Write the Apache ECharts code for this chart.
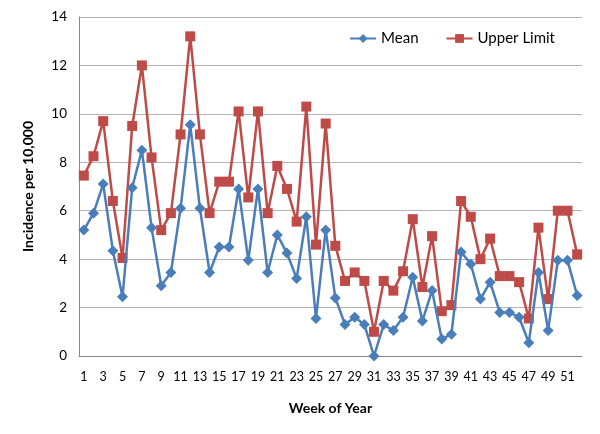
<!DOCTYPE html>
<html>
<head>
<meta charset="utf-8">
<script src="https://cdn.jsdelivr.net/npm/echarts@6/dist/echarts.min.js"></script>
<style>
  html, body { margin: 0; padding: 0; background: #fff; }
  #chart { width: 600px; height: 434px; }
</style>
</head>
<body>
<div id="chart"></div>
<script>
const weeks = [];
for (let w = 1; w <= 52; w++) weeks.push(String(w));

const meanValues = [
  5.2, 5.9, 7.1, 4.35, 2.45, 6.95, 8.5, 5.3, 2.9, 3.45,
  6.1, 9.55, 6.1, 3.45, 4.5, 4.5, 6.9, 3.95, 6.9, 3.45,
  5.0, 4.25, 3.2, 5.75, 1.55, 5.2, 2.4, 1.3, 1.6, 1.3,
  0.0, 1.3, 1.05, 1.6, 3.25, 1.45, 2.7, 0.7, 0.9, 4.3,
  3.8, 2.35, 3.05, 1.8, 1.8, 1.6, 0.55, 3.45, 1.05, 3.95,
  3.95, 2.5
];

const upperValues = [
  7.45, 8.25, 9.7, 6.4, 4.05, 9.5, 12.0, 8.2, 5.2, 5.9,
  9.15, 13.2, 9.15, 5.9, 7.2, 7.2, 10.1, 6.55, 10.1, 5.9,
  7.85, 6.9, 5.55, 10.3, 4.6, 9.6, 4.55, 3.1, 3.45, 3.1,
  1.0, 3.1, 2.7, 3.5, 5.65, 2.85, 4.95, 1.85, 2.1, 6.4,
  5.75, 4.0, 4.85, 3.3, 3.3, 3.05, 1.55, 5.3, 2.35, 6.0,
  6.0, 4.2
];

const font = 'Lato, "Open Sans", sans-serif';

const chart = echarts.init(document.getElementById('chart'));
chart.setOption({
  animation: false,
  textStyle: { fontFamily: font },
  grid: { left: 79, right: 18, top: 17, bottom: 78 },
  legend: {
    top: 26,
    right: 40,
    itemWidth: 26,
    itemHeight: 11,
    itemGap: 27,
    textStyle: { fontSize: 15, color: '#000', fontFamily: font },
    data: ['Mean', 'Upper Limit']
  },
  xAxis: {
    type: 'category',
    data: weeks,
    boundaryGap: true,
    name: 'Week of Year',
    nameLocation: 'middle',
    nameGap: 45,
    nameTextStyle: { fontSize: 14, fontWeight: 'bold', color: '#000' },
    axisLine: { lineStyle: { color: '#878787' } },
    axisTick: { show: false },
    axisLabel: { interval: 1, color: '#000', fontSize: 12.5, margin: 14 },
    splitLine: { show: false }
  },
  yAxis: {
    type: 'value',
    min: 0,
    max: 14,
    interval: 2,
    name: 'Incidence per 10,000',
    nameLocation: 'middle',
    nameGap: 44,
    nameTextStyle: { fontSize: 14, fontWeight: 'bold', color: '#000' },
    axisLine: { show: true, lineStyle: { color: '#878787' } },
    axisTick: { show: false },
    axisLabel: { color: '#000', fontSize: 13.5, margin: 12 },
    splitLine: { lineStyle: { color: '#b4b4b4', width: 1 } }
  },
  series: [
    {
      name: 'Mean',
      type: 'line',
      data: meanValues,
      symbol: 'diamond',
      symbolSize: 11,
      showAllSymbol: true,
      color: '#4a7ebb',
      lineStyle: { width: 2.5, color: '#4a7ebb' },
      itemStyle: { color: '#4a7ebb' },
      z: 3
    },
    {
      name: 'Upper Limit',
      type: 'line',
      data: upperValues,
      symbol: 'rect',
      symbolSize: 10,
      showAllSymbol: true,
      color: '#be4b48',
      lineStyle: { width: 2.5, color: '#be4b48' },
      itemStyle: { color: '#be4b48' },
      z: 2
    }
  ]
});
</script>
</body>
</html>
